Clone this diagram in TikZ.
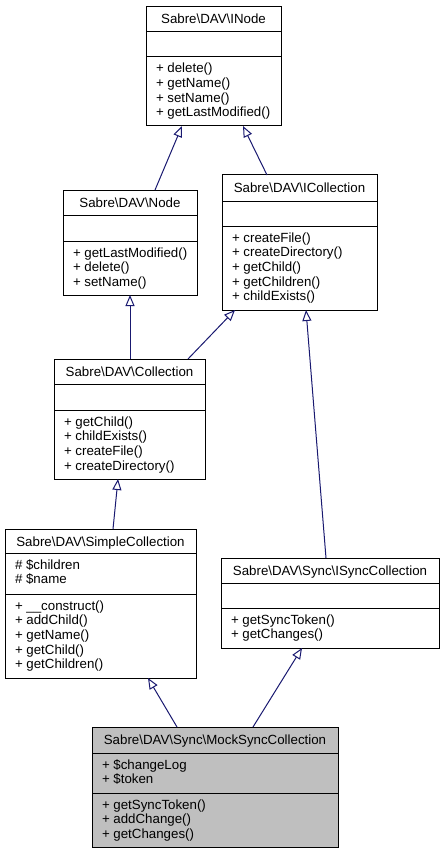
\documentclass[tikz,border=0pt]{standalone}
\usepackage{fontspec}
\setmainfont{Liberation Sans}
\usetikzlibrary{arrows.meta}
\definecolor{edgeblue}{HTML}{191970}
\definecolor{mockgray}{HTML}{BFBFBF}
\newcommand{\bs}{\textbackslash}
\newcommand{\umlbox}[8][]{%
  \node[clsbox,#1,minimum width={(#5-#3)*1pt},minimum height={(#6-#4)*1pt}] (#2) at (#3,#4) {};
  \draw[sepline] (#3,#7) -- (#5,#7);
  \draw[sepline] (#3,#8) -- (#5,#8);
}
\begin{document}
\begin{tikzpicture}[x=1pt,y=-1pt,
  clsbox/.style={draw=black,line width=1pt,inner sep=0pt,outer sep=0pt,anchor=north west},
  sepline/.style={draw=black,line width=1pt},
  txt/.style={inner sep=0pt,outer sep=0pt,font=\fontsize{13.3}{14.67}\selectfont,anchor=base west},
  ttl/.style={txt,anchor=base},
  inh/.style={draw=edgeblue,line width=1pt,-{Triangle[open,length=11pt,width=9pt]}}
]
\useasboundingbox (0,0) rectangle (445,853);

% INode
\umlbox{inode}{146}{7}{281}{126}{32}{57}
\node[ttl] (inode-t) at (213.5,24) {Sabre\bs DAV\bs INode};
\node[txt] (inode-m1) at (156,73) {+ delete()};
\node[txt] (inode-m2) at (156,87.67) {+ getName()};
\node[txt] (inode-m3) at (156,102.33) {+ setName()};
\node[txt] (inode-m4) at (156,117) {+ getLastModified()};

% Node
\umlbox{node}{63}{190}{197}{295}{215}{241}
\node[ttl] (node-t) at (130,207) {Sabre\bs DAV\bs Node};
\node[txt] (node-m1) at (73,257) {+ getLastModified()};
\node[txt] (node-m2) at (73,271.67) {+ delete()};
\node[txt] (node-m3) at (73,286.33) {+ setName()};

% ICollection
\umlbox{icoll}{222}{175}{377}{310}{201}{226}
\node[ttl] (icoll-t) at (299.5,192) {Sabre\bs DAV\bs ICollection};
\node[txt] (icoll-m1) at (232,242) {+ createFile()};
\node[txt] (icoll-m2) at (232,256.67) {+ createDirectory()};
\node[txt] (icoll-m3) at (232,271.33) {+ getChild()};
\node[txt] (icoll-m4) at (232,286) {+ getChildren()};
\node[txt] (icoll-m5) at (232,300.67) {+ childExists()};

% Collection
\umlbox{coll}{54}{359}{205}{479}{384}{410}
\node[ttl] (coll-t) at (129.5,376) {Sabre\bs DAV\bs Collection};
\node[txt] (coll-m1) at (64,426) {+ getChild()};
\node[txt] (coll-m2) at (64,440.67) {+ childExists()};
\node[txt] (coll-m3) at (64,455.33) {+ createFile()};
\node[txt] (coll-m4) at (64,470) {+ createDirectory()};

% SimpleCollection
\umlbox{simple}{5}{529}{196}{678}{553}{594}
\node[ttl] (simple-t) at (100.5,546) {Sabre\bs DAV\bs SimpleCollection};
\node[txt] (simple-a1) at (15,569) {\# \$children};
\node[txt] (simple-a2) at (15,583.67) {\# \$name};
\node[txt] (simple-m1) at (15,610) {+ \_\_construct()};
\node[txt] (simple-m2) at (15,624.67) {+ addChild()};
\node[txt] (simple-m3) at (15,639.33) {+ getName()};
\node[txt] (simple-m4) at (15,654) {+ getChild()};
\node[txt] (simple-m5) at (15,668.67) {+ getChildren()};

% ISyncCollection
\umlbox{isync}{221}{558}{439}{648}{583}{608}
\node[ttl] (isync-t) at (330,575) {Sabre\bs DAV\bs Sync\bs ISyncCollection};
\node[txt] (isync-m1) at (231,624) {+ getSyncToken()};
\node[txt] (isync-m2) at (231,638.67) {+ getChanges()};

% MockSyncCollection
\umlbox[fill=mockgray]{mock}{92}{727}{338}{847}{753}{793}
\node[ttl] (mock-t) at (215,744) {Sabre\bs DAV\bs Sync\bs MockSyncCollection};
\node[txt] (mock-a1) at (102,769) {+ \$changeLog};
\node[txt] (mock-a2) at (102,783.67) {+ \$token};
\node[txt] (mock-m1) at (102,809) {+ getSyncToken()};
\node[txt] (mock-m2) at (102,823.67) {+ addChange()};
\node[txt] (mock-m3) at (102,838.33) {+ getChanges()};

% inheritance edges
\draw[inh] ([xshift=92pt]node.north west) -- ([xshift=36pt]inode.south west);
\draw[inh] ([xshift=45pt]icoll.north west) -- ([xshift=97pt]inode.south west);
\draw[inh] ([xshift=76pt]coll.north west) -- ([xshift=67pt]node.south west);
\draw[inh] ([xshift=134pt]coll.north west) -- ([xshift=13pt]icoll.south west);
\draw[inh] ([xshift=105pt]isync.north west) -- ([xshift=84pt]icoll.south west);
\draw[inh] ([xshift=108pt]simple.north west) -- ([xshift=64pt]coll.south west);
\draw[inh] ([xshift=85pt]mock.north west) -- ([xshift=143pt]simple.south west);
\draw[inh] ([xshift=161pt]mock.north west) -- ([xshift=81pt]isync.south west);
\end{tikzpicture}
\end{document}
